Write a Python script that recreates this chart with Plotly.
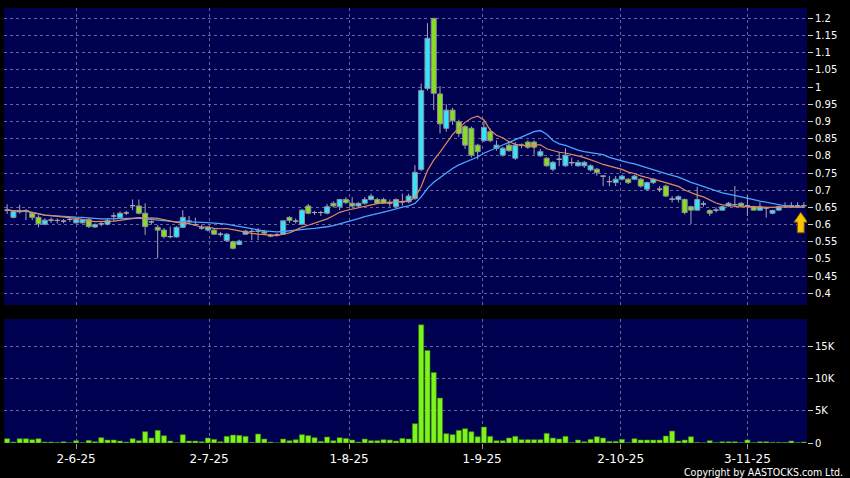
import plotly.graph_objects as go
from plotly.subplots import make_subplots
import pandas as pd

# ---------------- data ----------------
opens = [0.642, 0.621, 0.640, 0.640, 0.633, 0.621, 0.601, 0.613, 0.612, 0.610,
         0.615, 0.605, 0.605, 0.615, 0.593, 0.602, 0.601, 0.625, 0.621, 0.634,
         0.655, 0.654, 0.633, 0.608, 0.592, 0.584, 0.565, 0.564, 0.592, 0.610,
         0.600, 0.590, 0.584, 0.584, 0.572, 0.553, 0.550, 0.542, 0.572, 0.580,
         0.581, 0.580, 0.570, 0.570, 0.572, 0.621, 0.610, 0.601, 0.654, 0.635,
         0.635, 0.633, 0.662, 0.652, 0.673, 0.662, 0.654, 0.662, 0.673, 0.673,
         0.673, 0.662, 0.652, 0.666, 0.666, 0.676, 0.760, 0.996, 1.200, 0.980,
         0.880, 0.933, 0.899, 0.885, 0.880, 0.831, 0.844, 0.870, 0.822, 0.802,
         0.831, 0.793, 0.831, 0.840, 0.840, 0.800, 0.793, 0.761, 0.790, 0.771,
         0.780, 0.771, 0.771, 0.759, 0.761, 0.741, 0.725, 0.722, 0.732, 0.732,
         0.732, 0.732, 0.703, 0.722, 0.703, 0.712, 0.674, 0.673, 0.673, 0.652,
         0.642, 0.660, 0.641, 0.642, 0.642, 0.654, 0.658, 0.662, 0.655, 0.652,
         0.642, 0.648, 0.633, 0.642, 0.655, 0.655, 0.655, 0.655]
highs = [0.659, 0.642, 0.658, 0.645, 0.636, 0.627, 0.618, 0.620, 0.618, 0.616,
         0.620, 0.618, 0.616, 0.618, 0.603, 0.608, 0.618, 0.635, 0.638, 0.640,
         0.673, 0.673, 0.662, 0.612, 0.599, 0.590, 0.594, 0.595, 0.642, 0.625,
         0.620, 0.600, 0.596, 0.588, 0.578, 0.575, 0.553, 0.556, 0.584, 0.590,
         0.590, 0.585, 0.573, 0.575, 0.612, 0.624, 0.618, 0.645, 0.660, 0.640,
         0.640, 0.660, 0.668, 0.675, 0.680, 0.680, 0.665, 0.680, 0.690, 0.678,
         0.678, 0.673, 0.676, 0.690, 0.690, 0.773, 1.010, 1.186, 1.200, 1.003,
         0.950, 0.940, 0.905, 0.890, 0.885, 0.835, 0.902, 0.880, 0.845, 0.826,
         0.840, 0.840, 0.836, 0.845, 0.845, 0.820, 0.796, 0.785, 0.812, 0.822,
         0.795, 0.788, 0.785, 0.775, 0.765, 0.742, 0.741, 0.741, 0.745, 0.735,
         0.745, 0.735, 0.725, 0.735, 0.712, 0.716, 0.683, 0.685, 0.676, 0.655,
         0.710, 0.668, 0.645, 0.650, 0.655, 0.666, 0.712, 0.665, 0.685, 0.655,
         0.665, 0.652, 0.643, 0.655, 0.665, 0.665, 0.665, 0.665]
lows = [0.631, 0.618, 0.632, 0.613, 0.613, 0.592, 0.598, 0.605, 0.603, 0.604,
        0.608, 0.603, 0.603, 0.590, 0.590, 0.595, 0.598, 0.610, 0.618, 0.628,
        0.642, 0.630, 0.570, 0.600, 0.502, 0.560, 0.560, 0.562, 0.590, 0.600,
        0.598, 0.585, 0.580, 0.570, 0.565, 0.550, 0.528, 0.540, 0.570, 0.555,
        0.555, 0.572, 0.563, 0.566, 0.570, 0.605, 0.603, 0.598, 0.630, 0.628,
        0.625, 0.630, 0.650, 0.642, 0.660, 0.650, 0.650, 0.658, 0.670, 0.660,
        0.660, 0.652, 0.650, 0.655, 0.662, 0.672, 0.755, 0.990, 0.933, 0.865,
        0.870, 0.890, 0.855, 0.820, 0.795, 0.790, 0.840, 0.840, 0.815, 0.798,
        0.812, 0.788, 0.822, 0.820, 0.803, 0.797, 0.768, 0.755, 0.770, 0.768,
        0.770, 0.768, 0.765, 0.755, 0.742, 0.712, 0.712, 0.712, 0.728, 0.718,
        0.730, 0.708, 0.698, 0.718, 0.695, 0.680, 0.664, 0.664, 0.630, 0.602,
        0.640, 0.652, 0.625, 0.635, 0.640, 0.652, 0.650, 0.652, 0.625, 0.640,
        0.640, 0.620, 0.630, 0.640, 0.648, 0.648, 0.648, 0.648]
closes = [0.642, 0.638, 0.637, 0.640, 0.621, 0.602, 0.613, 0.613, 0.612, 0.610,
          0.615, 0.615, 0.614, 0.594, 0.600, 0.602, 0.612, 0.625, 0.633, 0.634,
          0.655, 0.633, 0.594, 0.608, 0.584, 0.565, 0.565, 0.592, 0.621, 0.610,
          0.600, 0.590, 0.592, 0.572, 0.572, 0.572, 0.531, 0.552, 0.581, 0.580,
          0.581, 0.575, 0.566, 0.570, 0.611, 0.612, 0.610, 0.642, 0.633, 0.635,
          0.635, 0.652, 0.654, 0.673, 0.664, 0.654, 0.662, 0.673, 0.683, 0.662,
          0.662, 0.662, 0.673, 0.666, 0.683, 0.752, 0.990, 1.142, 0.982, 0.893,
          0.933, 0.902, 0.865, 0.831, 0.802, 0.812, 0.883, 0.844, 0.831, 0.822,
          0.815, 0.831, 0.831, 0.825, 0.825, 0.812, 0.771, 0.781, 0.790, 0.802,
          0.780, 0.781, 0.781, 0.771, 0.751, 0.741, 0.725, 0.732, 0.741, 0.722,
          0.741, 0.712, 0.722, 0.732, 0.703, 0.683, 0.674, 0.681, 0.635, 0.642,
          0.673, 0.660, 0.633, 0.642, 0.652, 0.662, 0.658, 0.654, 0.655, 0.642,
          0.652, 0.648, 0.641, 0.652, 0.655, 0.655, 0.655, 0.655]
volumes = [670, 150, 670, 670, 520, 670, 150, 150, 100, 200,
           40, 360, 50, 410, 200, 830, 470, 470, 310, 150,
           670, 360, 1760, 780, 1970, 1140, 310, 40, 1300, 310,
           310, 200, 780, 570, 200, 1040, 1240, 1190, 1040, 100,
           1400, 620, 150, 30, 620, 360, 520, 1300, 1140, 830,
           260, 930, 360, 830, 720, 470, 150, 620, 360, 360,
           520, 470, 310, 720, 620, 3000, 18400, 14400, 10980, 7000,
           1450, 1300, 1970, 2230, 1760, 980, 2490, 1040, 360, 360,
           780, 1040, 520, 520, 520, 520, 1500, 780, 620, 1040,
           50, 470, 200, 570, 980, 780, 260, 260, 570, 50,
           670, 470, 470, 470, 470, 1090, 1860, 310, 470, 980,
           100, 30, 360, 50, 200, 200, 200, 50, 470, 50,
           200, 200, 100, 100, 100, 310, 50, 150]

date_tick_pos = [11, 32.2, 54.5, 75.7, 97.8, 118]
date_tick_labels = ["2-6-25", "2-7-25", "1-8-25", "1-9-25", "2-10-25", "3-11-25"]
price_ticks = [0.4, 0.45, 0.5, 0.55, 0.6, 0.65, 0.7, 0.75, 0.8, 0.85,
               0.9, 0.95, 1.0, 1.05, 1.1, 1.15, 1.2]
price_tick_labels = ["0.4", "0.45", "0.5", "0.55", "0.6", "0.65", "0.7", "0.75", "0.8",
                     "0.85", "0.9", "0.95", "1", "1.05", "1.1", "1.15", "1.2"]
vol_ticks = [0, 5000, 10000, 15000]
vol_tick_labels = ["0", "5K", "10K", "15K"]

# ---------------- derived ----------------
n = len(closes)
idx = list(range(n))
cs = pd.Series(closes)
ma10 = cs.rolling(10, min_periods=1).mean()
ma20 = cs.rolling(20, min_periods=1).mean()

NAVY = "#000050"
GRID = "rgba(120,120,160,0.85)"
CYAN = "#33e4ff"
GREENC = "#88dd22"
OUTLINE = "#8c8c9a"
WICK = "#a6a6b2"
LIME = "#7cf51c"
FONT = "DejaVu Sans"
BODY_W = 0.8

body_base, body_h, body_col = [], [], []
for o, c in zip(opens, closes):
    body_base.append(min(o, c))
    body_h.append(abs(c - o))
    body_col.append(CYAN if c > o else (GREENC if c < o else "rgba(0,0,0,0)"))

# wicks (above and below the body) and doji crosses
wx, wy, dx, dy = [], [], [], []
for i in idx:
    top, bot = max(opens[i], closes[i]), min(opens[i], closes[i])
    if highs[i] > top:
        wx += [i, i, None]
        wy += [top, highs[i], None]
    if lows[i] < bot:
        wx += [i, i, None]
        wy += [bot, lows[i], None]
    if opens[i] == closes[i]:
        dx += [i - BODY_W / 2, i + BODY_W / 2, None]
        dy += [opens[i], opens[i], None]

fig = make_subplots(rows=2, cols=1, shared_xaxes=True)

fig.add_trace(go.Bar(x=idx, y=body_h, base=body_base, width=BODY_W,
                     marker=dict(color=body_col, line=dict(color=OUTLINE, width=1)),
                     hoverinfo="skip", showlegend=False), row=1, col=1)
fig.add_trace(go.Scatter(x=wx, y=wy, mode="lines", line=dict(color=WICK, width=1),
                         hoverinfo="skip", showlegend=False), row=1, col=1)
fig.add_trace(go.Scatter(x=dx, y=dy, mode="lines", line=dict(color=WICK, width=1),
                         hoverinfo="skip", showlegend=False), row=1, col=1)
fig.add_trace(go.Scatter(x=idx, y=ma20, mode="lines",
                         line=dict(color="#4aa6ff", width=1.3),
                         hoverinfo="skip", showlegend=False), row=1, col=1)
fig.add_trace(go.Scatter(x=idx, y=ma10, mode="lines",
                         line=dict(color="#e08a5e", width=1.2),
                         hoverinfo="skip", showlegend=False), row=1, col=1)
fig.add_trace(go.Bar(x=idx, y=volumes, width=0.82,
                     marker=dict(color=LIME, line=dict(color="#3c7a08", width=0.6)),
                     hoverinfo="skip", showlegend=False), row=2, col=1)

axis_common = dict(showline=False, zeroline=False, gridcolor=GRID, griddash="3px,3px",
                   gridwidth=1)
fig.update_layout(
    width=850, height=478,
    paper_bgcolor="black", plot_bgcolor=NAVY,
    margin=dict(l=4, r=43, t=8, b=35),
    barmode="overlay",
    hovermode=False,
    font=dict(family=FONT, color="white", size=10),
    xaxis=dict(range=[-0.5, n - 0.5], tickvals=date_tick_pos,
               showticklabels=False, ticks="",
               showgrid=True, **axis_common),
    xaxis2=dict(range=[-0.5, n - 0.5], tickvals=date_tick_pos,
                ticktext=date_tick_labels, ticks="outside", ticklen=5,
                tickcolor="#9a9a9a", tickfont=dict(size=12, color="white", family=FONT),
                showgrid=True, **axis_common),
    yaxis=dict(domain=[0.3172, 1.0], range=[0.366, 1.23], side="right",
               tickvals=price_ticks, ticktext=price_tick_labels,
               ticks="outside", ticklen=5, tickcolor="#cfcfcf",
               tickfont=dict(size=10, color="white", family=FONT),
               showgrid=True, **axis_common),
    yaxis2=dict(domain=[0.0, 0.285], range=[0, 19300], side="right",
                tickvals=vol_ticks, ticktext=vol_tick_labels,
                ticks="outside", ticklen=5, tickcolor="#cfcfcf",
                tickfont=dict(size=10, color="white", family=FONT),
                showgrid=True, **axis_common),
)

# yellow "last price" arrow below the last bar
ax = n - 1.5
base = closes[-1]
tip, neck, tail = base - 0.019, base - 0.048, base - 0.079
hw, sw = 1.1, 0.55
arrow_path = (f"M {ax - sw},{tail} L {ax + sw},{tail} L {ax + sw},{neck} "
              f"L {ax + hw},{neck} L {ax},{tip} L {ax - hw},{neck} "
              f"L {ax - sw},{neck} Z")
fig.add_shape(type="path", path=arrow_path, xref="x", yref="y",
              fillcolor="#f7c600", line=dict(color="#7a5500", width=1))

fig.add_annotation(text="Copyright by AASTOCKS.com Ltd.", xref="paper", yref="paper",
                   x=1.047, y=-0.0675, xanchor="right", yanchor="middle",
                   showarrow=False,
                   font=dict(family="DejaVu Sans Condensed", size=10.5, color="white"))

fig.write_html("out.html", config={"displayModeBar": False},
               post_script="document.body.style.margin='0';")
